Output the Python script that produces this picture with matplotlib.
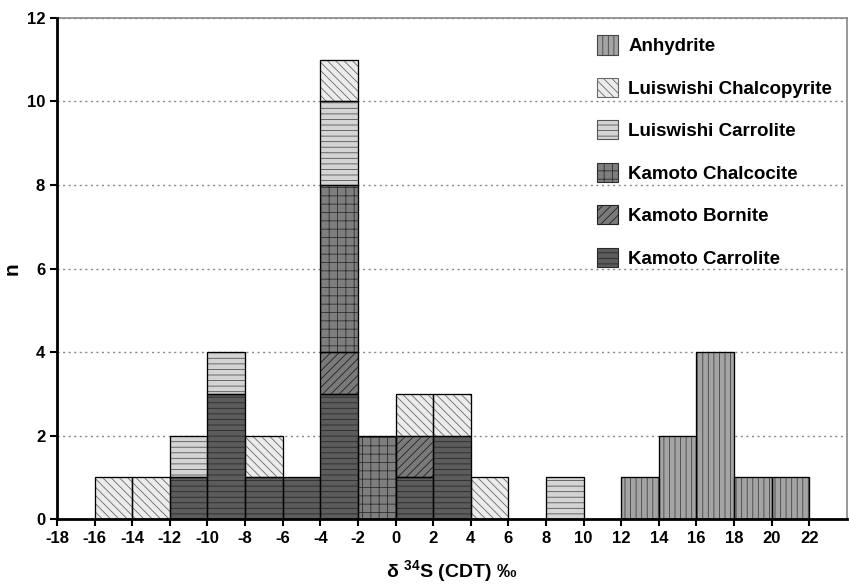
import numpy as np
import matplotlib
matplotlib.use("Agg")
from matplotlib import pyplot as plt

plt.rcParams["font.family"] = ["Liberation Sans", "DejaVu Sans"]
plt.rcParams["font.weight"] = "bold"
plt.rcParams["axes.unicode_minus"] = False
plt.rcParams["mathtext.fontset"] = "custom"
plt.rcParams["mathtext.rm"] = "Liberation Sans:bold"
plt.rcParams["mathtext.bf"] = "Liberation Sans:bold"
plt.rcParams["hatch.linewidth"] = 0.6

# left edges of the 2 permil bins
bin_left = [-16, -14, -12, -10, -8, -6, -4, -2, 0, 2, 4, 6, 8, 10, 12, 14, 16, 18, 20]

kamoto_carrolite = [0, 0, 1, 3, 1, 1, 3, 0, 1, 2, 0, 0, 0, 0, 0, 0, 0, 0, 0]
kamoto_bornite = [0, 0, 0, 0, 0, 0, 1, 0, 1, 0, 0, 0, 0, 0, 0, 0, 0, 0, 0]
kamoto_chalcocite = [0, 0, 0, 0, 0, 0, 4, 2, 0, 0, 0, 0, 0, 0, 0, 0, 0, 0, 0]
luiswishi_carrolite = [0, 0, 1, 1, 0, 0, 2, 0, 0, 0, 0, 0, 1, 0, 0, 0, 0, 0, 0]
luiswishi_chalcopyrite = [1, 1, 0, 0, 1, 0, 1, 0, 1, 1, 1, 0, 0, 0, 0, 0, 0, 0, 0]
anhydrite = [0, 0, 0, 0, 0, 0, 0, 0, 0, 0, 0, 0, 0, 0, 1, 2, 4, 1, 1]

# bottom to top stacking order
series = [
    ("Kamoto Carrolite", kamoto_carrolite, "#5c5c5c", "#2a2a2a", "---"),
    ("Kamoto Bornite", kamoto_bornite, "#7a7a7a", "#222222", "////"),
    ("Kamoto Chalcocite", kamoto_chalcocite, "#7e7e7e", "#2e2e2e", "++"),
    ("Luiswishi Carrolite", luiswishi_carrolite, "#d4d4d4", "#555555", "---"),
    ("Luiswishi Chalcopyrite", luiswishi_chalcopyrite, "#ececec", "#6a6a6a", "\\\\\\\\"),
    ("Anhydrite", anhydrite, "#a4a4a4", "#444444", "|||"),
]

fig = plt.figure(figsize=(8.49, 5.88), dpi=100)
ax = fig.add_axes([0.0671, 0.1173, 0.9305, 0.8521])

x = np.array(bin_left, dtype=float)
bottom = np.zeros(len(bin_left))
handles = []
for label, counts, face, edge, hatch in series:
    counts = np.array(counts, dtype=float)
    keep = counts > 0
    bars = ax.bar(
        x[keep],
        counts[keep],
        width=2,
        bottom=bottom[keep],
        align="edge",
        facecolor=face,
        edgecolor=edge,
        hatch=hatch,
        linewidth=0.8,
        label=label,
        zorder=2,
    )
    # black outline on top of the hatch colour
    ax.bar(
        x[keep],
        counts[keep],
        width=2,
        bottom=bottom[keep],
        align="edge",
        fill=False,
        edgecolor="black",
        linewidth=0.9,
        zorder=3,
    )
    handles.append(bars)
    bottom += counts

ax.set_xlim(-18, 24)
ax.set_ylim(0, 12)
ax.set_xticks(np.arange(-18, 23, 2))
ax.set_yticks(np.arange(0, 13, 2))
ax.tick_params(direction="out", length=5, width=1.5, labelsize=12)

ax.yaxis.grid(True, linestyle=(0, (1.5, 2.5)), color="#888888", linewidth=1)
ax.set_axisbelow(True)

for side in ("left", "bottom"):
    ax.spines[side].set_linewidth(2)
    ax.spines[side].set_color("black")
    ax.spines[side].set_zorder(4)
for side in ("top", "right"):
    ax.spines[side].set_linewidth(1.2)
    ax.spines[side].set_color("#888888")

ax.set_xlabel(r"δ $^{34}$S (CDT) ‰", fontsize=14, fontweight="bold", labelpad=9)
ax.set_ylabel("n", fontsize=15, fontweight="bold")
ax.yaxis.set_label_coords(-0.045, 0.5)

ax.legend(
    handles[::-1],
    [s[0] for s in series][::-1],
    loc="upper left",
    bbox_to_anchor=(0.672, 0.984),
    frameon=False,
    borderpad=0,
    handlelength=1.1,
    handleheight=1.2,
    handletextpad=0.55,
    labelspacing=1.2,
    prop={"size": 13.5, "weight": "bold"},
)

fig.savefig("out.png", dpi=100)
